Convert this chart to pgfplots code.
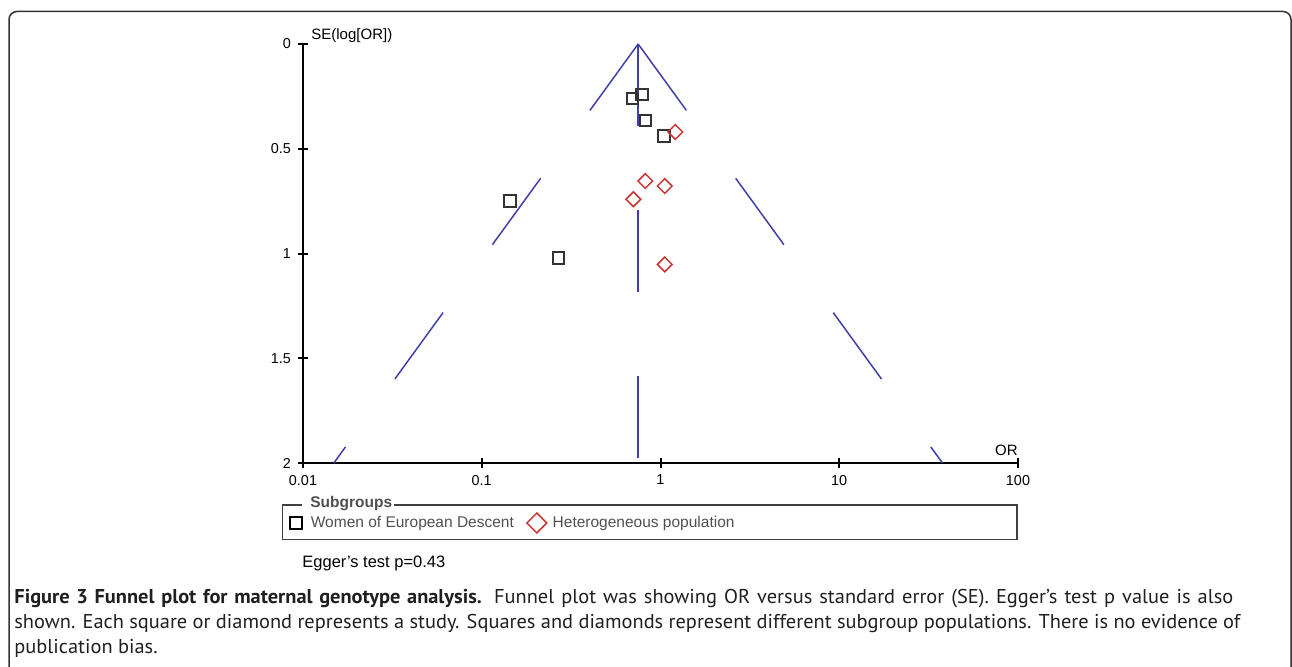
\documentclass[border=0pt]{standalone}
\usepackage{fontspec}
\setmainfont{Liberation Sans}
\newfontfamily\capfont{PT Sans}
\usepackage{pgfplots}
\pgfplotsset{compat=1.18}
\definecolor{funnel}{RGB}{64,64,170}
\definecolor{sqc}{RGB}{51,51,51}
\definecolor{dmc}{RGB}{204,51,51}
\definecolor{legtxt}{RGB}{80,80,80}
\begin{document}
\begin{tikzpicture}
\begin{scope}[x=0.5pt,y=-0.5pt]
\useasboundingbox (0,0) rectangle (1292,667);
\draw[line width=0.75pt, black!80, rounded corners=4pt] (9,720) -- (9,11.5) -- (1291,11.5) -- (1291,720);
\end{scope}
\begin{axis}[
  at={(151.5pt,-231.5pt)}, anchor=south west,
  scale only axis, width=357.5pt, height=209.5pt,
  xmode=log, xmin=0.01, xmax=100, ymin=0, ymax=2, y dir=reverse,
  axis x line*=bottom, axis y line*=left,
  xtick={0.01,0.1,1,10,100}, xticklabels={0.01,0.1,1,10,100},
  ytick={0,0.5,1,1.5,2}, yticklabels={0,0.5,1,1.5,2},
  xminorticks=false, yminorticks=false,
  tick align=center, major tick length=5pt,
  tick style={black, line width=1pt},
  axis line style={black, line width=1pt},
  ticklabel style={font=\fontsize{7.2}{8}\selectfont},
  clip=false,
  legend columns=2,
  legend image code/.code={\draw[#1] plot coordinates {(0pt,0pt)};},
  legend style={at={(axis description cs:-0.0189,-0.1432)}, anchor=west, draw=none, fill=none,
    inner sep=0pt, font=\fontsize{7.75}{9}\selectfont, text=legtxt,
    nodes={inner sep=0pt, anchor=west},
    /tikz/every odd column/.append style={column sep=3pt},
    /tikz/every even column/.append style={column sep=6.5pt}},
]
\addplot[funnel, line width=0.75pt, dash pattern=on 41pt off 42pt, forget plot] coordinates {(0.75,0) (0.01488,2)};
\addplot[funnel, line width=0.75pt, dash pattern=on 41pt off 42pt, forget plot] coordinates {(0.75,0) (37.8,2)};
\addplot[funnel, line width=0.75pt, dash pattern=on 41pt off 42pt, forget plot] coordinates {(0.75,0) (0.75,2)};
\addplot[only marks, mark=square, mark size=2.8pt, sqc, mark options={line width=1pt}, forget plot]
  coordinates {(0.699,0.261) (0.788,0.242) (0.826,0.366) (1.046,0.439) (0.144,0.749) (0.270,1.021)};
\addplot[only marks, mark=square, mark size=2.6pt, dmc, mark options={rotate=45, line width=0.75pt}, forget plot]
  coordinates {(1.21,0.420) (0.822,0.654) (1.056,0.678) (0.705,0.741) (1.056,1.052)};
\addlegendimage{only marks, mark=square, mark size=3pt, black, mark options={line width=0.75pt},
  legend image code/.code={\draw[##1] plot coordinates {(0pt,0pt)}; \path[draw=none] (0pt,0pt) -- (4.5pt,0pt);}}
\addlegendentry{Women of European Descent}
\addlegendimage{only marks, mark=square, mark size=3.5pt, dmc, mark options={rotate=45, line width=0.75pt}}
\addlegendentry{Heterogeneous population}
\end{axis}
\begin{scope}[x=0.5pt,y=-0.5pt]
\node[anchor=west, inner sep=0pt, font=\fontsize{7.5}{9}\selectfont] at (311,36) {SE(log[OR])};
\node[anchor=south east, inner sep=0pt, font=\fontsize{7.5}{9}\selectfont] at (1018,456) {OR};
\draw[line width=0.75pt, black!75] (302,505) -- (282.5,505) -- (282.5,539.5) -- (1017,539.5) -- (1017,505) -- (394,505);
\node[anchor=west, inner sep=0pt, font=\bfseries\fontsize{7.75}{9}\selectfont, text=legtxt] at (310,504) {Subgroups};
\node[anchor=west, inner sep=0pt, font=\fontsize{8.25}{10}\selectfont] at (302,563) {Egger's test p=0.43};
\begin{scope}[every node/.style={anchor=base west, inner sep=0pt, font=\capfont\fontsize{10}{12}\selectfont, text=black!88}]
\node at (14,604) {\scalebox{1.02}[1]{\makebox[597.5pt][s]{{\bfseries Figure 3 Funnel plot for maternal genotype analysis.} Funnel plot was showing OR versus standard error (SE). Egger’s test p value is also}}};
\node at (14,629) {\scalebox{1.02}[1]{\makebox[601pt][s]{shown. Each square or diamond represents a study. Squares and diamonds represent different subgroup populations. There is no evidence of}}};
\node at (14,654) {\scalebox{1.02}[1]{publication bias.}};
\end{scope}
\end{scope}
\end{tikzpicture}
\end{document}
